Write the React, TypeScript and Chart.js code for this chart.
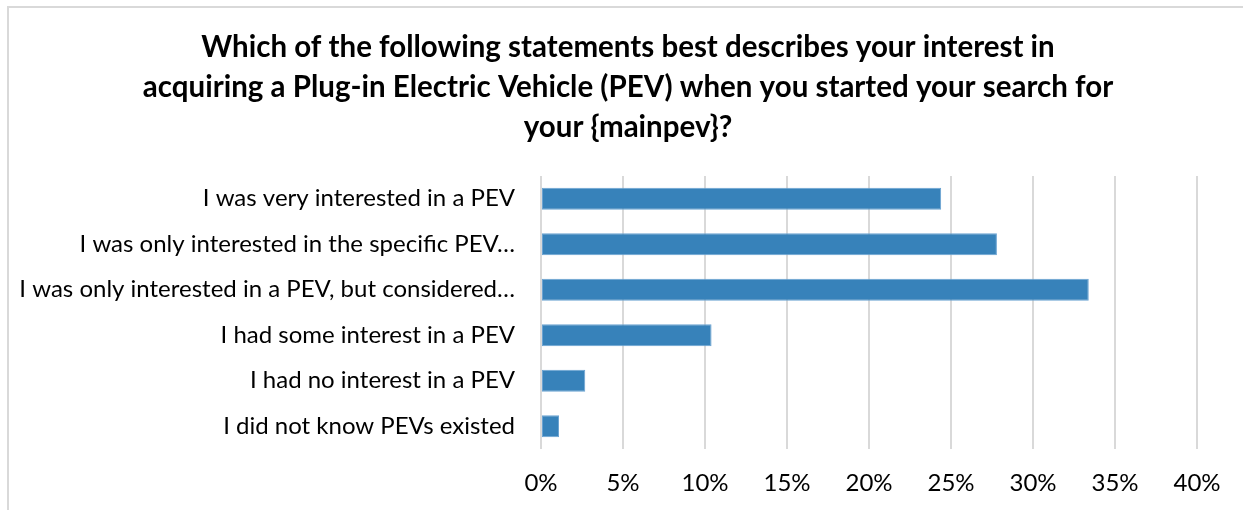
import React, { useEffect, useRef } from "react";
import { Chart, registerables } from "chart.js";

Chart.register(...registerables);

const titleLines = [
  "Which of the following statements best describes your interest in",
  "acquiring a Plug-in Electric Vehicle (PEV) when you started your search for",
  "your {mainpev}?",
];

const categories = [
  "I was very interested in a PEV",
  "I was only interested in the specific PEV…",
  "I was only interested in a PEV, but considered…",
  "I had some interest in a PEV",
  "I had no interest in a PEV",
  "I did not know PEVs existed",
];

const values = [24.4, 27.8, 33.4, 10.4, 2.7, 1.1];

const xTicks = [0, 5, 10, 15, 20, 25, 30, 35, 40];

const W = 1236;
const H = 504;

const framePlugin = {
  id: "frame",
  beforeDraw(chart: any) {
    const ctx = chart.ctx;
    ctx.save();
    ctx.fillStyle = "#ffffff";
    ctx.fillRect(0, 0, chart.width, chart.height);
    ctx.strokeStyle = "#d9d9d9";
    ctx.lineWidth = 2;
    ctx.strokeRect(1, 1, chart.width + 20, chart.height + 20);
    ctx.restore();
  },
  afterDraw(chart: any) {
    const ctx = chart.ctx;
    ctx.save();
    ctx.fillStyle = "#000000";
    ctx.font = "bold 29.5px Lato";
    ctx.textAlign = "center";
    ctx.textBaseline = "middle";
    titleLines.forEach((line, i) => {
      ctx.fillText(line, 621, 41 + i * 40);
    });
    ctx.restore();
  },
};

export default function App() {
  const ref = useRef<HTMLCanvasElement | null>(null);

  useEffect(() => {
    if (!ref.current) return;
    const chart = new Chart(ref.current, {
      type: "bar",
      data: {
        labels: categories,
        datasets: [
          {
            data: values,
            backgroundColor: "#3782ba",
            borderColor: "#6aa3d2",
            borderWidth: 1,
            borderSkipped: false,
            barPercentage: 0.6,
            categoryPercentage: 0.8,
          },
        ],
      },
      options: {
        indexAxis: "y",
        animation: false,
        responsive: false,
        devicePixelRatio: 1,
        layout: { padding: { left: 0, right: 46, top: 170, bottom: 0 } },
        plugins: {
          legend: { display: false },
          tooltip: { enabled: false },
          title: { display: false },
        },
        scales: {
          x: {
            min: 0,
            max: 40,
            afterBuildTicks(scale: any) {
              scale.ticks = xTicks.map((v) => ({ value: v }));
            },
            afterFit(scale: any) {
              scale.height = 61;
            },
            ticks: {
              color: "#000000",
              font: { family: "Lato", size: 24 },
              padding: 20,
              callback: (v: any) => v + "%",
            },
            grid: { color: "#d9d9d9", lineWidth: 2, drawTicks: false },
            border: { display: false },
          },
          y: {
            afterFit(scale: any) {
              scale.width = 534;
            },
            ticks: {
              color: "#000000",
              font: { family: "Lato", size: 24 },
              padding: 26,
            },
            grid: { display: false, drawTicks: false },
            border: { display: false },
          },
        },
      },
      plugins: [framePlugin],
    });
    return () => chart.destroy();
  }, []);

  return (
    <div style={{ position: "absolute", left: 7, top: 6, width: W, height: H }}>
      <canvas ref={ref} width={W} height={H} style={{ display: "block", width: W, height: H }} />
    </div>
  );
}
